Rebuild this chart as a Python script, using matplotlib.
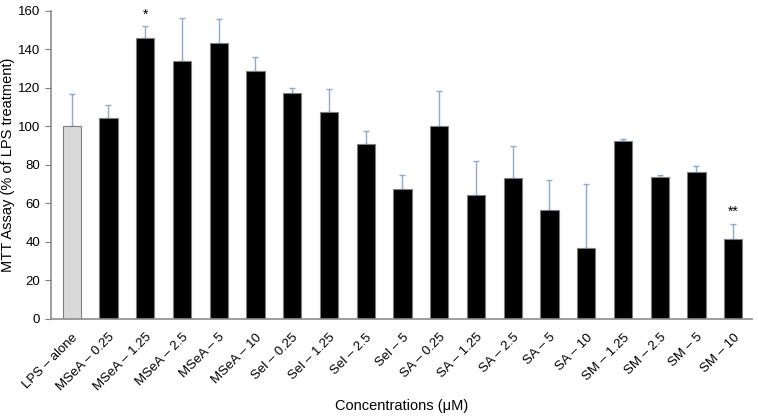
import numpy as np
import matplotlib
matplotlib.use("Agg")
import matplotlib.pyplot as plt

plt.rcParams['font.family'] = ['Liberation Sans', 'DejaVu Sans']

labels = ["LPS \u2013 alone",
          "MSeA \u2013 0.25", "MSeA \u2013 1.25", "MSeA \u2013 2.5", "MSeA \u2013 5", "MSeA \u2013 10",
          "Sel \u2013 0.25", "Sel \u2013 1.25", "Sel \u2013 2.5", "Sel \u2013 5",
          "SA \u2013 0.25", "SA \u2013 1.25", "SA \u2013 2.5", "SA \u2013 5", "SA \u2013 10",
          "SM \u2013 1.25", "SM \u2013 2.5", "SM \u2013 5", "SM \u2013 10"]
means = [100, 104.1, 145.8, 134.2, 143.4, 128.9,
         117.4, 107.7, 90.8, 67.5,
         100.2, 64.3, 73.3, 56.7, 37.0,
         92.4, 73.7, 76.4, 41.7]
errs = [17.0, 7.1, 6.2, 22.3, 12.6, 6.9,
        2.5, 11.5, 6.6, 7.2,
        18.4, 17.8, 16.5, 15.2, 33.0,
        0.8, 1.0, 3.0, 7.7]
stars = {2: "*", 18: "**"}

colors = ['#d9d9d9'] + ['#000000'] * (len(labels) - 1)
x = np.arange(len(labels))

fig = plt.figure(figsize=(7.58, 4.19), dpi=100)
ax = fig.add_axes([0.067, 0.239, 0.925, 0.735])

ax.bar(x, means, width=0.5, color=colors, edgecolor='#7f7f7f', linewidth=0.8, zorder=2)
# only the upper half of the error bars is drawn
ax.errorbar(x, means, yerr=[np.zeros(len(errs)), errs], fmt='none',
            ecolor='#8eaacb', elinewidth=1.0, capsize=2.5, capthick=1.0, zorder=1)

for i, s in stars.items():
    ax.text(x[i], means[i] + errs[i] + 2.5, s, ha='center', va='bottom', fontsize=10)

ax.set_xlim(-0.57, 18.51)
ax.set_ylim(0, 160)
ax.set_yticks(range(0, 161, 20))
ax.set_xticks(x)
ax.set_xticklabels(labels, rotation=45, ha='right', rotation_mode='anchor', fontsize=9.5)
ax.tick_params(axis='x', length=0, pad=9)
ax.tick_params(axis='y', length=4, color='#7f7f7f', labelsize=9.5)

for side in ['top', 'right']:
    ax.spines[side].set_visible(False)
for side in ['left', 'bottom']:
    ax.spines[side].set_color('#8c8c8c')
    ax.spines[side].set_linewidth(1.2)

ax.set_ylabel("MTT Assay (% of LPS treatment)", fontsize=10.5)
ax.yaxis.set_label_coords(-0.051, 0.5)
fig.text(0.53, 0.022, "Concentrations (\u03bcM)", ha='center', fontsize=10.5)

fig.savefig("out.png", dpi=100)
